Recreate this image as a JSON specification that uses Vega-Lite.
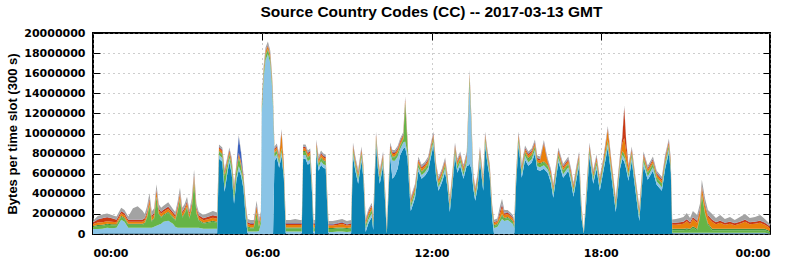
{
"$schema":"https://vega.github.io/schema/vega-lite/v6.json",
"width":677,"height":201,
"autosize":{"type":"none"},
"padding":{"left":93,"top":33,"right":22,"bottom":25},
"background":"white",
"title":{"text":"Source Country Codes (CC) -- 2017-03-13 GMT","font":"Liberation Sans","fontSize":15.5,"fontWeight":"bold","color":"black","anchor":"middle","offset":7},
"config":{"view":{"stroke":"black","strokeWidth":2},"axis":{"labelFont":"DejaVu Sans","labelFontWeight":"bold","labelFontSize":11,"labelColor":"black","tickColor":"black","domain":false,"gridColor":"#9a9a9a","gridDash":[1,4],"gridOpacity":1,"gridWidth":1}},
"resolve":{"axis":{"x":"independent","y":"independent"}},
"layer":[
{
"data":{"values":[
{"m":0,"a":0,"b":5e5,"c":2e5,"d":1e5,"e":2e5,"f":1.5e5,"g":0,"h":1.5e5},
{"m":10,"a":0,"b":5e5,"c":3e5,"d":1e5,"e":2.5e5,"f":3e5,"g":5e4,"h":3e5},
{"m":20,"a":2e4,"b":5e5,"c":3e5,"d":1e5,"e":2.5e5,"f":4e5,"g":3e4,"h":3.5e5},
{"m":30,"a":2e4,"b":6e5,"c":3e5,"d":1e5,"e":2.5e5,"f":4e5,"g":3e4,"h":3.5e5},
{"m":40,"a":2e4,"b":5.5e5,"c":3e5,"d":1e5,"e":2.5e5,"f":3.5e5,"g":3e4,"h":3e5},
{"m":50,"a":2e4,"b":6e5,"c":2.5e5,"d":1e5,"e":2e5,"f":2.5e5,"g":3e4,"h":3e5},
{"m":60,"a":2e4,"b":1.4e6,"c":3e5,"d":1e5,"e":2.5e5,"f":2e5,"g":3e4,"h":3e5},
{"m":67,"a":2e4,"b":1.2e6,"c":3e5,"d":1e5,"e":2.5e5,"f":2e5,"g":3e4,"h":3e5},
{"m":75,"a":2e4,"b":6e5,"c":3e5,"d":1e5,"e":2e5,"f":2e5,"g":3e4,"h":3e5},
{"m":85,"a":2e4,"b":6e5,"c":3e5,"d":1e5,"e":2e5,"f":2e5,"g":3e4,"h":1.1e6},
{"m":95,"a":2e4,"b":6e5,"c":3e5,"d":1e5,"e":2e5,"f":2e5,"g":3e4,"h":1.3e6},
{"m":105,"a":2e4,"b":6e5,"c":3e5,"d":1e5,"e":2e5,"f":2e5,"g":3e4,"h":9e5},
{"m":110,"a":2e4,"b":6e5,"c":4e5,"d":1e5,"e":2.5e5,"f":2e5,"g":3e4,"h":4e5},
{"m":115,"a":2e4,"b":6e5,"c":1e6,"d":1e5,"e":3e5,"f":2e5,"g":3e4,"h":5e5},
{"m":120,"a":2e4,"b":6e5,"c":2.2e6,"d":1e5,"e":4e5,"f":2e5,"g":3e4,"h":5e5},
{"m":125,"a":2e4,"b":6e5,"c":6e5,"d":1e5,"e":3e5,"f":2e5,"g":3e4,"h":4e5},
{"m":130,"a":2e4,"b":7e5,"c":8e5,"d":1e5,"e":3e5,"f":2e5,"g":3e4,"h":4e5},
{"m":135,"a":2e4,"b":8e5,"c":2.8e6,"d":1e5,"e":5e5,"f":2e5,"g":3e4,"h":5e5},
{"m":140,"a":2e4,"b":9e5,"c":1e6,"d":1e5,"e":3e5,"f":2e5,"g":3e4,"h":4e5},
{"m":145,"a":2e4,"b":1e6,"c":6e5,"d":1e5,"e":3e5,"f":2e5,"g":3e4,"h":3.5e5},
{"m":150,"a":2e4,"b":1.2e6,"c":6e5,"d":1e5,"e":3e5,"f":2e5,"g":3e4,"h":3.5e5},
{"m":160,"a":2e4,"b":1.3e6,"c":8e5,"d":1e5,"e":3e5,"f":2e5,"g":3e4,"h":4e5},
{"m":170,"a":2e4,"b":1e6,"c":6e5,"d":1e5,"e":2.5e5,"f":2e5,"g":3e4,"h":3e5},
{"m":175,"a":2e4,"b":7e5,"c":6e5,"d":1e5,"e":2.5e5,"f":2e5,"g":3e4,"h":3e5},
{"m":180,"a":2e4,"b":6e5,"c":1.6e6,"d":1e5,"e":3e5,"f":2e5,"g":3e4,"h":3.5e5},
{"m":185,"a":2e4,"b":6e5,"c":2.8e6,"d":1e5,"e":4e5,"f":2e5,"g":3e4,"h":4.5e5},
{"m":190,"a":2e4,"b":6e5,"c":1e6,"d":1e5,"e":3e5,"f":2e5,"g":3e4,"h":3.5e5},
{"m":195,"a":2e4,"b":6e5,"c":1.4e6,"d":1e5,"e":3e5,"f":2e5,"g":3e4,"h":3.5e5},
{"m":200,"a":2e4,"b":6e5,"c":2e6,"d":1e5,"e":3.5e5,"f":2e5,"g":3e4,"h":4e5},
{"m":205,"a":2e4,"b":6e5,"c":9e5,"d":1e5,"e":3e5,"f":2e5,"g":3e4,"h":2.5e5},
{"m":210,"a":2e4,"b":6e5,"c":1.8e6,"d":1e5,"e":3.5e5,"f":2e5,"g":3e4,"h":4e5},
{"m":215,"a":2e4,"b":6e5,"c":4.5e6,"d":1e5,"e":4.5e5,"f":2e5,"g":3e4,"h":5e5},
{"m":220,"a":2e4,"b":6e5,"c":1.4e6,"d":1e5,"e":3e5,"f":2e5,"g":3e4,"h":3.5e5},
{"m":225,"a":2e4,"b":6e5,"c":7e5,"d":1e5,"e":2.5e5,"f":2e5,"g":3e4,"h":3e5},
{"m":235,"a":2e4,"b":5e5,"c":5e5,"d":1e5,"e":2.5e5,"f":2e5,"g":3e4,"h":3e5},
{"m":245,"a":2e4,"b":5e5,"c":6e5,"d":1e5,"e":2.5e5,"f":2.5e5,"g":3e4,"h":3.5e5},
{"m":255,"a":2e4,"b":5e5,"c":7e5,"d":1e5,"e":3e5,"f":2.5e5,"g":3e4,"h":4e5},
{"m":264,"a":2e4,"b":5e5,"c":6e5,"d":1e5,"e":3e5,"f":2.5e5,"g":3e4,"h":3.5e5},
{"m":268,"a":7.5e6,"b":3.5e5,"c":3e5,"d":1e5,"e":2.5e5,"f":1.5e5,"g":5e4,"h":2e5},
{"m":275,"a":7.2e6,"b":3.5e5,"c":3e5,"d":1e5,"e":2.5e5,"f":1.5e5,"g":5e4,"h":2e5},
{"m":280,"a":4.2e6,"b":3.5e5,"c":1.2e6,"d":1e5,"e":2.5e5,"f":1.5e5,"g":5e4,"h":2e5},
{"m":285,"a":5.8e6,"b":3.5e5,"c":6e5,"d":1e5,"e":2.5e5,"f":1.5e5,"g":5e4,"h":2e5},
{"m":290,"a":7.2e6,"b":3.5e5,"c":3e5,"d":1e5,"e":2.5e5,"f":1.5e5,"g":5e4,"h":2e5},
{"m":295,"a":6e6,"b":3.5e5,"c":5e5,"d":1e5,"e":2.5e5,"f":1.5e5,"g":5e4,"h":2e5},
{"m":300,"a":3e6,"b":3.5e5,"c":8e5,"d":1e5,"e":2.5e5,"f":1.5e5,"g":5e4,"h":2e5},
{"m":305,"a":5.3e6,"b":3.5e5,"c":6e5,"d":1e5,"e":2.5e5,"f":1.5e5,"g":5e4,"h":2e5},
{"m":310,"a":6.4e6,"b":3.5e5,"c":8e5,"d":1e5,"e":2.5e5,"f":1.5e5,"g":1.6e6,"h":2e5},
{"m":315,"a":5.8e6,"b":3.5e5,"c":6e5,"d":1e5,"e":2.5e5,"f":1.5e5,"g":8e5,"h":2e5},
{"m":320,"a":4.5e6,"b":3.5e5,"c":4e5,"d":1e5,"e":2.5e5,"f":1.5e5,"g":5e4,"h":2e5},
{"m":325,"a":1.5e6,"b":3.5e5,"c":4e5,"d":1e5,"e":2.5e5,"f":1.5e5,"g":5e4,"h":2e5},
{"m":329,"a":0,"b":2.5e5,"c":4e5,"d":1e5,"e":2.5e5,"f":1.5e5,"g":5e4,"h":3e5},
{"m":335,"a":0,"b":2.5e5,"c":3e5,"d":1e5,"e":2.5e5,"f":1.5e5,"g":5e4,"h":3e5},
{"m":342,"a":0,"b":2.5e5,"c":3e5,"d":1e5,"e":2.5e5,"f":1.5e5,"g":5e4,"h":3e5},
{"m":348,"a":0,"b":2.5e5,"c":1.8e6,"d":1e5,"e":5e5,"f":1.5e5,"g":5e4,"h":4.5e5},
{"m":353,"a":0,"b":3e5,"c":4e5,"d":1e5,"e":2.5e5,"f":1.5e5,"g":5e4,"h":3e5},
{"m":357,"a":0,"b":1e6,"c":4e5,"d":1e5,"e":3e5,"f":1e5,"g":5e4,"h":3e5},
{"m":359,"a":0,"b":1.2e7,"c":4e5,"d":1e5,"e":3e5,"f":1e5,"g":5e4,"h":3e5},
{"m":363,"a":0,"b":1.55e7,"c":4e5,"d":1e5,"e":3e5,"f":1e5,"g":5e4,"h":3e5},
{"m":367,"a":0,"b":1.73e7,"c":4e5,"d":1e5,"e":3e5,"f":1e5,"g":5e4,"h":3e5},
{"m":372,"a":0,"b":1.79e7,"c":4e5,"d":1e5,"e":3e5,"f":1e5,"g":5e4,"h":3e5},
{"m":377,"a":0,"b":1.7e7,"c":4e5,"d":1e5,"e":3e5,"f":1e5,"g":5e4,"h":3e5},
{"m":381,"a":0,"b":1.45e7,"c":4e5,"d":1e5,"e":3e5,"f":1e5,"g":5e4,"h":3e5},
{"m":383,"a":0,"b":1.25e7,"c":4e5,"d":1e5,"e":3e5,"f":1e5,"g":5e4,"h":3e5},
{"m":386,"a":7.3e6,"b":3.5e5,"c":3e5,"d":1e5,"e":2.5e5,"f":1.5e5,"g":5e4,"h":2e5},
{"m":391,"a":7.6e6,"b":3.5e5,"c":3e5,"d":1e5,"e":2.5e5,"f":1.5e5,"g":5e4,"h":2e5},
{"m":396,"a":6.6e6,"b":3.5e5,"c":3e5,"d":1e5,"e":2.5e5,"f":1.5e5,"g":5e4,"h":2e5},
{"m":401,"a":7.8e6,"b":3.5e5,"c":3e5,"d":1e5,"e":1.5e6,"f":1.5e5,"g":5e4,"h":2e5},
{"m":406,"a":5.5e6,"b":3.5e5,"c":3e5,"d":1e5,"e":5e5,"f":1.5e5,"g":5e4,"h":2e5},
{"m":410,"a":0,"b":2.5e5,"c":3e5,"d":1e5,"e":2.5e5,"f":1.5e5,"g":5e4,"h":3e5},
{"m":420,"a":0,"b":2.5e5,"c":3e5,"d":1e5,"e":2.5e5,"f":1.5e5,"g":5e4,"h":3e5},
{"m":430,"a":0,"b":2.5e5,"c":3e5,"d":1e5,"e":2.5e5,"f":1.5e5,"g":5e4,"h":4e5},
{"m":440,"a":0,"b":2.5e5,"c":3e5,"d":1e5,"e":2.5e5,"f":1.5e5,"g":5e4,"h":3e5},
{"m":444,"a":0,"b":2.5e5,"c":3e5,"d":1e5,"e":2.5e5,"f":1.5e5,"g":5e4,"h":3e5},
{"m":447,"a":7.5e6,"b":3.5e5,"c":3e5,"d":1e5,"e":2.5e5,"f":1.5e5,"g":5e4,"h":2e5},
{"m":452,"a":7.5e6,"b":3.5e5,"c":3e5,"d":1e5,"e":2.5e5,"f":1.5e5,"g":5e4,"h":2e5},
{"m":457,"a":6.9e6,"b":3.5e5,"c":3e5,"d":1e5,"e":2.5e5,"f":1.5e5,"g":5e4,"h":2e5},
{"m":462,"a":7.1e6,"b":3.5e5,"c":3e5,"d":1e5,"e":2.5e5,"f":1.5e5,"g":5e4,"h":2e5},
{"m":466,"a":4e6,"b":3.5e5,"c":3e5,"d":1e5,"e":2.5e5,"f":1.5e5,"g":5e4,"h":2e5},
{"m":469,"a":0,"b":2.5e5,"c":3e5,"d":1e5,"e":2.5e5,"f":1.5e5,"g":5e4,"h":3e5},
{"m":472,"a":0,"b":2.5e5,"c":3e5,"d":1e5,"e":2.5e5,"f":1.5e5,"g":5e4,"h":3e5},
{"m":475,"a":8e6,"b":3.5e5,"c":3e5,"d":1e5,"e":2.5e5,"f":1.5e5,"g":5e4,"h":2e5},
{"m":480,"a":6.3e6,"b":3.5e5,"c":3e5,"d":1e5,"e":2.5e5,"f":1.5e5,"g":5e4,"h":2e5},
{"m":485,"a":6.9e6,"b":3.5e5,"c":3e5,"d":1e5,"e":2.5e5,"f":1.5e5,"g":5e4,"h":2e5},
{"m":490,"a":6.6e6,"b":3.5e5,"c":3e5,"d":1e5,"e":2.5e5,"f":1.5e5,"g":5e4,"h":2e5},
{"m":495,"a":6.5e6,"b":3.5e5,"c":3e5,"d":1e5,"e":2.5e5,"f":1.5e5,"g":5e4,"h":2e5},
{"m":498,"a":3e6,"b":3.5e5,"c":3e5,"d":1e5,"e":2.5e5,"f":1.5e5,"g":5e4,"h":2e5},
{"m":501,"a":0,"b":2e5,"c":3e5,"d":1e5,"e":2.5e5,"f":1e5,"g":5e4,"h":3e5},
{"m":510,"a":0,"b":2e5,"c":3e5,"d":1e5,"e":2.5e5,"f":1e5,"g":5e4,"h":3e5},
{"m":520,"a":0,"b":2.5e5,"c":3e5,"d":1e5,"e":2.5e5,"f":1.5e5,"g":5e4,"h":3e5},
{"m":530,"a":0,"b":2.5e5,"c":3e5,"d":1e5,"e":3.5e5,"f":1.5e5,"g":5e4,"h":3e5},
{"m":540,"a":0,"b":2e5,"c":3e5,"d":1e5,"e":2.5e5,"f":1e5,"g":5e4,"h":3e5},
{"m":549,"a":0,"b":2.5e5,"c":3e5,"d":1e5,"e":2.5e5,"f":1.5e5,"g":5e4,"h":3e5},
{"m":553,"a":7.7e6,"b":3.5e5,"c":3e5,"d":1e5,"e":2.5e5,"f":1.5e5,"g":5e4,"h":2e5},
{"m":558,"a":6.3e6,"b":3.5e5,"c":3e5,"d":1e5,"e":2.5e5,"f":1.5e5,"g":5e4,"h":2e5},
{"m":564,"a":5e6,"b":3.5e5,"c":3e5,"d":1e5,"e":2.5e5,"f":1.5e5,"g":5e4,"h":2e5},
{"m":571,"a":7.3e6,"b":3.5e5,"c":3e5,"d":1e5,"e":2.5e5,"f":1.5e5,"g":5e4,"h":2e5},
{"m":575,"a":5.6e6,"b":3.5e5,"c":3e5,"d":1e5,"e":2.5e5,"f":1.5e5,"g":5e4,"h":2e5},
{"m":580,"a":2e5,"b":3.5e5,"c":3e5,"d":1e5,"e":2.5e5,"f":1.5e5,"g":5e4,"h":2e5},
{"m":586,"a":1.1e6,"b":3.5e5,"c":3e5,"d":1e5,"e":2.5e5,"f":1.5e5,"g":5e4,"h":2e5},
{"m":593,"a":1.7e6,"b":3.5e5,"c":3e5,"d":1e5,"e":2.5e5,"f":1.5e5,"g":5e4,"h":2e5},
{"m":596,"a":4e5,"b":3.5e5,"c":3e5,"d":1e5,"e":2.5e5,"f":1.5e5,"g":5e4,"h":2e5},
{"m":602,"a":8.8e6,"b":3.5e5,"c":3e5,"d":1e5,"e":2.5e5,"f":1.5e5,"g":5e4,"h":2e5},
{"m":606,"a":6.5e6,"b":3.5e5,"c":3e5,"d":1e5,"e":2.5e5,"f":1.5e5,"g":5e4,"h":2e5},
{"m":610,"a":5e6,"b":3.5e5,"c":3e5,"d":1e5,"e":2.5e5,"f":1.5e5,"g":5e4,"h":2e5},
{"m":617,"a":6.8e6,"b":3.5e5,"c":3e5,"d":1e5,"e":2.5e5,"f":1.5e5,"g":5e4,"h":2e5},
{"m":622,"a":2.6e6,"b":3.5e5,"c":3e5,"d":1e5,"e":2.5e5,"f":1.5e5,"g":5e4,"h":2e5},
{"m":625,"a":0,"b":1e5,"c":2e5,"d":5e4,"e":1.5e5,"f":1e5,"g":2e4,"h":1.5e5},
{"m":632,"a":7.7e6,"b":3.5e5,"c":3e5,"d":1e5,"e":2.5e5,"f":1.5e5,"g":5e4,"h":2e5},
{"m":637,"a":5.5e6,"b":1.8e6,"c":3e5,"d":1e5,"e":2.5e5,"f":1.5e5,"g":5e4,"h":2e5},
{"m":642,"a":5.8e6,"b":1.5e6,"c":3e5,"d":1e5,"e":2.5e5,"f":1.5e5,"g":5e4,"h":2e5},
{"m":648,"a":6.5e6,"b":1.2e6,"c":3e5,"d":1e5,"e":2.5e5,"f":1.5e5,"g":5e4,"h":2e5},
{"m":653,"a":7.8e6,"b":6e5,"c":3e5,"d":1e5,"e":2.5e5,"f":1.5e5,"g":5e4,"h":2e5},
{"m":660,"a":8.5e6,"b":6e5,"c":3e5,"d":1e5,"e":2.5e5,"f":1.5e5,"g":5e4,"h":2e5},
{"m":664,"a":8.6e6,"b":6e5,"c":3.75e6,"d":1e5,"e":2.5e5,"f":1.5e5,"g":5e4,"h":2e5},
{"m":669,"a":7.5e6,"b":5e5,"c":8e5,"d":1e5,"e":2.5e5,"f":1.5e5,"g":5e4,"h":2e5},
{"m":673,"a":4.3e6,"b":3.5e5,"c":3e5,"d":1e5,"e":2.5e5,"f":1.5e5,"g":5e4,"h":2e5},
{"m":676,"a":2.3e6,"b":3.5e5,"c":3e5,"d":1e5,"e":2.5e5,"f":1.5e5,"g":5e4,"h":2e5},
{"m":685,"a":3.6e6,"b":3.5e5,"c":3e5,"d":1e5,"e":2.5e5,"f":1.5e5,"g":5e4,"h":2e5},
{"m":692,"a":6.3e6,"b":3.5e5,"c":3e5,"d":1e5,"e":2.5e5,"f":1.5e5,"g":5e4,"h":2e5},
{"m":699,"a":5.5e6,"b":3.5e5,"c":3e5,"d":1e5,"e":2.5e5,"f":1.5e5,"g":5e4,"h":2e5},
{"m":706,"a":5.8e6,"b":3.5e5,"c":3e5,"d":1e5,"e":2.5e5,"f":1.5e5,"g":5e4,"h":2e5},
{"m":713,"a":6.3e6,"b":3.5e5,"c":3e5,"d":1e5,"e":2.5e5,"f":1.5e5,"g":5e4,"h":2e5},
{"m":718,"a":7.5e6,"b":3.5e5,"c":3e5,"d":1e5,"e":2.5e5,"f":1.5e5,"g":5e4,"h":2e5},
{"m":724,"a":8.8e6,"b":3.5e5,"c":3e5,"d":1e5,"e":2.5e5,"f":1.5e5,"g":5e4,"h":2e5},
{"m":730,"a":5.6e6,"b":3.5e5,"c":3e5,"d":1e5,"e":2.5e5,"f":1.5e5,"g":5e4,"h":2e5},
{"m":735,"a":4.3e6,"b":3.5e5,"c":3e5,"d":1e5,"e":2.5e5,"f":1.5e5,"g":5e4,"h":2e5},
{"m":742,"a":5.1e6,"b":3.5e5,"c":3e5,"d":1e5,"e":2.5e5,"f":1.5e5,"g":5e4,"h":2e5},
{"m":749,"a":6.2e6,"b":3.5e5,"c":3e5,"d":1e5,"e":2.5e5,"f":1.5e5,"g":5e4,"h":2e5},
{"m":754,"a":4.6e6,"b":3.5e5,"c":3e5,"d":1e5,"e":2.5e5,"f":1.5e5,"g":5e4,"h":2e5},
{"m":759,"a":2.2e6,"b":3.5e5,"c":3e5,"d":1e5,"e":2.5e5,"f":1.5e5,"g":5e4,"h":2e5},
{"m":765,"a":5.1e6,"b":3.5e5,"c":3e5,"d":1e5,"e":2.5e5,"f":1.5e5,"g":5e4,"h":2e5},
{"m":770,"a":7.7e6,"b":3.5e5,"c":3e5,"d":1e5,"e":2.5e5,"f":1.5e5,"g":5e4,"h":2e5},
{"m":775,"a":6.1e6,"b":3.5e5,"c":3e5,"d":1e5,"e":2.5e5,"f":1.5e5,"g":5e4,"h":2e5},
{"m":781,"a":6.8e6,"b":3.5e5,"c":3e5,"d":1e5,"e":2.5e5,"f":1.5e5,"g":5e4,"h":2e5},
{"m":788,"a":5.5e6,"b":3.5e5,"c":3e5,"d":1e5,"e":2.5e5,"f":1.5e5,"g":5e4,"h":2e5},
{"m":795,"a":6.8e6,"b":3.5e5,"c":3e5,"d":1e5,"e":2.5e5,"f":1.5e5,"g":5e4,"h":2e5},
{"m":798,"a":6.8e6,"b":4.5e6,"c":3e5,"d":1e5,"e":2.5e5,"f":1.5e5,"g":5e4,"h":2e5},
{"m":801,"a":7e6,"b":7.9e6,"c":6e5,"d":1e5,"e":2.5e5,"f":1.5e5,"g":5e4,"h":3e5},
{"m":805,"a":6.5e6,"b":4e6,"c":3e5,"d":1e5,"e":2.5e5,"f":1.5e5,"g":5e4,"h":2e5},
{"m":809,"a":4.5e6,"b":5e5,"c":3e5,"d":1e5,"e":2.5e5,"f":1.5e5,"g":5e4,"h":2e5},
{"m":813,"a":3.3e6,"b":3.5e5,"c":3e5,"d":1e5,"e":2.5e5,"f":1.5e5,"g":5e4,"h":2e5},
{"m":818,"a":4.6e6,"b":3.5e5,"c":3e5,"d":1e5,"e":2.5e5,"f":1.5e5,"g":5e4,"h":2e5},
{"m":823,"a":7.3e6,"b":3.5e5,"c":3e5,"d":1e5,"e":2.5e5,"f":1.5e5,"g":5e4,"h":2e5},
{"m":830,"a":4.3e6,"b":3.5e5,"c":3e5,"d":1e5,"e":2.5e5,"f":1.5e5,"g":5e4,"h":2e5},
{"m":834,"a":8.8e6,"b":3.5e5,"c":3e5,"d":1e5,"e":2.5e5,"f":1.5e5,"g":5e4,"h":2e5},
{"m":839,"a":7e6,"b":3.5e5,"c":3e5,"d":1e5,"e":2.5e5,"f":1.5e5,"g":5e4,"h":2e5},
{"m":844,"a":5.6e6,"b":3.5e5,"c":3e5,"d":1e5,"e":2.5e5,"f":1.5e5,"g":5e4,"h":2e5},
{"m":849,"a":1.6e6,"b":3.5e5,"c":3e5,"d":1e5,"e":2.5e5,"f":1.5e5,"g":5e4,"h":2e5},
{"m":853,"a":0,"b":6e5,"c":2e5,"d":1e5,"e":2e5,"f":1e5,"g":3e4,"h":2e5},
{"m":860,"a":0,"b":7e5,"c":2e5,"d":1e5,"e":2e5,"f":1e5,"g":3e4,"h":2e5},
{"m":866,"a":0,"b":1.2e6,"c":3e5,"d":1e5,"e":4e5,"f":3e5,"g":3e4,"h":5e5},
{"m":870,"a":0,"b":1.5e6,"c":4e5,"d":1e5,"e":6e5,"f":3e5,"g":1e5,"h":5e5},
{"m":875,"a":0,"b":1.3e6,"c":2e5,"d":1e5,"e":3e5,"f":1.5e5,"g":3e4,"h":3e5},
{"m":882,"a":0,"b":1.4e6,"c":2e5,"d":1e5,"e":3e5,"f":1.5e5,"g":3e4,"h":2e5},
{"m":888,"a":0,"b":1.2e6,"c":2e5,"d":1e5,"e":2.5e5,"f":1.5e5,"g":3e4,"h":2e5},
{"m":893,"a":0,"b":1e6,"c":2e5,"d":1e5,"e":2.5e5,"f":1e5,"g":3e4,"h":2e5},
{"m":896,"a":0,"b":6e5,"c":2e5,"d":1e5,"e":2.5e5,"f":1e5,"g":3e4,"h":2e5},
{"m":900,"a":5e6,"b":3.5e5,"c":3e5,"d":1e5,"e":2.5e5,"f":1.5e5,"g":5e4,"h":2e5},
{"m":905,"a":8.8e6,"b":3.5e5,"c":3e5,"d":1e5,"e":2.5e5,"f":1.5e5,"g":5e4,"h":2e5},
{"m":908,"a":7.6e6,"b":3.5e5,"c":3e5,"d":1e5,"e":2.5e5,"f":1.5e5,"g":5e4,"h":2e5},
{"m":912,"a":5.6e6,"b":3.5e5,"c":3e5,"d":1e5,"e":2.5e5,"f":1.5e5,"g":5e4,"h":2e5},
{"m":919,"a":7.4e6,"b":3.5e5,"c":3e5,"d":1e5,"e":2.5e5,"f":1.5e5,"g":5e4,"h":2e5},
{"m":926,"a":6.8e6,"b":3.5e5,"c":3e5,"d":1e5,"e":2.5e5,"f":1.5e5,"g":5e4,"h":2e5},
{"m":933,"a":7.1e6,"b":3.5e5,"c":3e5,"d":1e5,"e":2.5e5,"f":1.5e5,"g":5e4,"h":2e5},
{"m":940,"a":8e6,"b":3.5e5,"c":3e5,"d":1e5,"e":2.5e5,"f":1.5e5,"g":5e4,"h":2e5},
{"m":945,"a":6.4e6,"b":3.5e5,"c":3e5,"d":1e5,"e":2.5e5,"f":1.5e5,"g":5e4,"h":2e5},
{"m":951,"a":6.3e6,"b":3.5e5,"c":3e5,"d":1e5,"e":2.5e5,"f":1.5e5,"g":5e4,"h":2e5},
{"m":959,"a":6.5e6,"b":3.5e5,"c":3e5,"d":1e5,"e":1.7e6,"f":1.5e5,"g":5e4,"h":2e5},
{"m":965,"a":6.2e6,"b":3.5e5,"c":3e5,"d":1e5,"e":6e5,"f":1.5e5,"g":5e4,"h":2e5},
{"m":968,"a":6e6,"b":3.5e5,"c":3e5,"d":1e5,"e":2.5e5,"f":1.5e5,"g":5e4,"h":2e5},
{"m":974,"a":5.1e6,"b":3.5e5,"c":3e5,"d":1e5,"e":2.5e5,"f":1.5e5,"g":5e4,"h":2e5},
{"m":979,"a":3.6e6,"b":3.5e5,"c":3e5,"d":1e5,"e":2.5e5,"f":1.5e5,"g":5e4,"h":2e5},
{"m":985,"a":5.6e6,"b":3.5e5,"c":3e5,"d":1e5,"e":2.5e5,"f":1.5e5,"g":5e4,"h":2e5},
{"m":990,"a":7.2e6,"b":3.5e5,"c":3e5,"d":1e5,"e":2.5e5,"f":1.5e5,"g":5e4,"h":2e5},
{"m":1000,"a":5.6e6,"b":3.5e5,"c":3e5,"d":1e5,"e":2.5e5,"f":1.5e5,"g":5e4,"h":2e5},
{"m":1011,"a":6.3e6,"b":3.5e5,"c":3e5,"d":1e5,"e":2.5e5,"f":1.5e5,"g":5e4,"h":2e5},
{"m":1017,"a":5.1e6,"b":3.5e5,"c":3e5,"d":1e5,"e":2.5e5,"f":1.5e5,"g":5e4,"h":2e5},
{"m":1022,"a":3.7e6,"b":3.5e5,"c":3e5,"d":1e5,"e":2.5e5,"f":1.5e5,"g":5e4,"h":2e5},
{"m":1029,"a":5.6e6,"b":3.5e5,"c":3e5,"d":1e5,"e":2.5e5,"f":1.5e5,"g":5e4,"h":2e5},
{"m":1034,"a":6.8e6,"b":3.5e5,"c":3e5,"d":1e5,"e":2.5e5,"f":1.5e5,"g":5e4,"h":2e5},
{"m":1039,"a":1.6e6,"b":3.5e5,"c":3e5,"d":1e5,"e":2.5e5,"f":1.5e5,"g":5e4,"h":2e5},
{"m":1044,"a":0,"b":5e4,"c":5e4,"d":2e4,"e":5e4,"f":3e4,"g":1e4,"h":5e4},
{"m":1050,"a":3.6e6,"b":3.5e5,"c":3e5,"d":1e5,"e":2.5e5,"f":1.5e5,"g":5e4,"h":2e5},
{"m":1056,"a":7.7e6,"b":3.5e5,"c":3e5,"d":1e5,"e":2.5e5,"f":1.5e5,"g":5e4,"h":2e5},
{"m":1064,"a":5e6,"b":3.5e5,"c":3e5,"d":1e5,"e":2.5e5,"f":1.5e5,"g":5e4,"h":2e5},
{"m":1071,"a":6.5e6,"b":3.5e5,"c":3e5,"d":1e5,"e":2.5e5,"f":1.5e5,"g":5e4,"h":2e5},
{"m":1078,"a":4.3e6,"b":3.5e5,"c":3e5,"d":1e5,"e":2.5e5,"f":1.5e5,"g":5e4,"h":2e5},
{"m":1085,"a":6.1e6,"b":3.5e5,"c":3e5,"d":1e5,"e":2.5e5,"f":1.5e5,"g":5e4,"h":2e5},
{"m":1095,"a":8.6e6,"b":3.5e5,"c":3e5,"d":1e5,"e":1e6,"f":1.5e5,"g":5e4,"h":2e5},
{"m":1103,"a":5.6e6,"b":3.5e5,"c":3e5,"d":1e5,"e":5e5,"f":1.5e5,"g":5e4,"h":2e5},
{"m":1112,"a":2.2e6,"b":3.5e5,"c":3e5,"d":1e5,"e":2.5e5,"f":1.5e5,"g":5e4,"h":2e5},
{"m":1121,"a":6.5e6,"b":3.5e5,"c":3e5,"d":1e5,"e":2.5e5,"f":1.5e5,"g":5e4,"h":2e5},
{"m":1126,"a":7.5e6,"b":3.5e5,"c":3e5,"d":1e5,"e":8e5,"f":6e5,"g":5e4,"h":2e5},
{"m":1130,"a":7.2e6,"b":3.5e5,"c":3e5,"d":1e5,"e":1.6e6,"f":3e6,"g":5e4,"h":2e5},
{"m":1134,"a":6.5e6,"b":3.5e5,"c":3e5,"d":1e5,"e":1e6,"f":1e6,"g":5e4,"h":2e5},
{"m":1139,"a":5.3e6,"b":3.5e5,"c":3e5,"d":1e5,"e":5e5,"f":1.5e5,"g":5e4,"h":2e5},
{"m":1146,"a":7.3e6,"b":3.5e5,"c":3e5,"d":1e5,"e":2.5e5,"f":1.5e5,"g":5e4,"h":2e5},
{"m":1153,"a":4.6e6,"b":3.5e5,"c":3e5,"d":1e5,"e":2.5e5,"f":1.5e5,"g":5e4,"h":2e5},
{"m":1162,"a":1.3e6,"b":3.5e5,"c":3e5,"d":1e5,"e":2.5e5,"f":1.5e5,"g":5e4,"h":2e5},
{"m":1171,"a":6.8e6,"b":3.5e5,"c":3e5,"d":1e5,"e":2.5e5,"f":1.5e5,"g":5e4,"h":2e5},
{"m":1180,"a":5.4e6,"b":3.5e5,"c":3e5,"d":1e5,"e":2.5e5,"f":1.5e5,"g":5e4,"h":2e5},
{"m":1191,"a":6.3e6,"b":3.5e5,"c":3e5,"d":1e5,"e":2.5e5,"f":1.5e5,"g":5e4,"h":2e5},
{"m":1199,"a":4.9e6,"b":3.5e5,"c":3e5,"d":1e5,"e":2.5e5,"f":1.5e5,"g":5e4,"h":2e5},
{"m":1210,"a":4.3e6,"b":3.5e5,"c":3e5,"d":1e5,"e":2.5e5,"f":1.5e5,"g":5e4,"h":2e5},
{"m":1217,"a":6.5e6,"b":3.5e5,"c":3e5,"d":1e5,"e":2.5e5,"f":1.5e5,"g":5e4,"h":2e5},
{"m":1225,"a":8.1e6,"b":3.5e5,"c":3e5,"d":1e5,"e":2.5e5,"f":1.5e5,"g":5e4,"h":2e5},
{"m":1229,"a":6.1e6,"b":3.5e5,"c":3e5,"d":1e5,"e":2.5e5,"f":1.5e5,"g":5e4,"h":2e5},
{"m":1232,"a":2e4,"b":1e5,"c":2.5e5,"d":1.5e5,"e":4e5,"f":2e5,"g":3e4,"h":3e5},
{"m":1240,"a":2e4,"b":1e5,"c":2.5e5,"d":1.5e5,"e":4e5,"f":2e5,"g":3e4,"h":3.5e5},
{"m":1249,"a":2e4,"b":1e5,"c":2.5e5,"d":1.5e5,"e":4.5e5,"f":2e5,"g":3e4,"h":4e5},
{"m":1256,"a":2e4,"b":1e5,"c":2.5e5,"d":1.5e5,"e":5e5,"f":2e5,"g":3e4,"h":4.5e5},
{"m":1263,"a":2e4,"b":1e5,"c":3e5,"d":1.5e5,"e":7e5,"f":2e5,"g":3e4,"h":6e5},
{"m":1270,"a":2e4,"b":1e5,"c":2.5e5,"d":1.5e5,"e":4.5e5,"f":2e5,"g":3e4,"h":4e5},
{"m":1276,"a":2e4,"b":1e5,"c":5e5,"d":1.5e5,"e":7e5,"f":2e5,"g":3e4,"h":6e5},
{"m":1285,"a":2e4,"b":1e5,"c":2.5e5,"d":1.5e5,"e":6e5,"f":2e5,"g":3e4,"h":5.5e5},
{"m":1291,"a":2e4,"b":1e5,"c":1.5e6,"d":1.5e5,"e":5.5e5,"f":2e5,"g":3e4,"h":4.5e5},
{"m":1295,"a":2e4,"b":1e5,"c":3.7e6,"d":1.5e5,"e":6e5,"f":2e5,"g":3e4,"h":6e5},
{"m":1302,"a":2e4,"b":1e5,"c":1.8e6,"d":1.5e5,"e":6.5e5,"f":2e5,"g":3e4,"h":5.5e5},
{"m":1308,"a":2e4,"b":1e5,"c":8e5,"d":1.5e5,"e":6e5,"f":2e5,"g":3e4,"h":5e5},
{"m":1317,"a":2e4,"b":1e5,"c":2.5e5,"d":1.5e5,"e":7e5,"f":2e5,"g":3e4,"h":5.5e5},
{"m":1325,"a":2e4,"b":1e5,"c":2.5e5,"d":1.5e5,"e":4.5e5,"f":2e5,"g":3e4,"h":4e5},
{"m":1334,"a":2e4,"b":1e5,"c":2.5e5,"d":1.5e5,"e":6e5,"f":2e5,"g":3e4,"h":5.5e5},
{"m":1344,"a":2e4,"b":1e5,"c":2.5e5,"d":1.5e5,"e":4e5,"f":2e5,"g":3e4,"h":3.5e5},
{"m":1355,"a":2e4,"b":1e5,"c":2.5e5,"d":1.5e5,"e":5e5,"f":2e5,"g":3e4,"h":4.5e5},
{"m":1365,"a":2e4,"b":1e5,"c":2.5e5,"d":1.5e5,"e":3.5e5,"f":2e5,"g":3e4,"h":3e5},
{"m":1376,"a":2e4,"b":1e5,"c":2.5e5,"d":1.5e5,"e":5e5,"f":2e5,"g":3e4,"h":4.5e5},
{"m":1387,"a":2e4,"b":1e5,"c":2.5e5,"d":1.5e5,"e":7e5,"f":2e5,"g":3e4,"h":5.5e5},
{"m":1397,"a":2e4,"b":1e5,"c":2.5e5,"d":1.5e5,"e":4.5e5,"f":2e5,"g":3e4,"h":4e5},
{"m":1408,"a":2e4,"b":1e5,"c":2.5e5,"d":1.5e5,"e":5e5,"f":2e5,"g":3e4,"h":4.5e5},
{"m":1419,"a":2e4,"b":1e5,"c":2.5e5,"d":1.5e5,"e":6e5,"f":2e5,"g":3e4,"h":5.5e5},
{"m":1429,"a":2e4,"b":1e5,"c":2.5e5,"d":1.5e5,"e":4e5,"f":2e5,"g":3e4,"h":3.5e5},
{"m":1440,"a":0,"b":5e4,"c":1.5e5,"d":1e5,"e":3e5,"f":1.5e5,"g":2e4,"h":2.3e5}
]},
"transform":[{"fold":["a","b","c","d","e","f","g","h"],"as":["k","v"]}],
"mark":{"type":"area","interpolate":"linear"},
"encoding":{
"x":{"field":"m","type":"quantitative","scale":{"domain":[0,1440],"nice":false,"zero":false},
"axis":{"values":[0,360,720,1080,1440],"labelExpr":"(floor(datum.value/60)%24<10?'0':'')+(floor(datum.value/60)%24)+':00'","title":null,"grid":true,"tickSize":-7,"labelPadding":20}},
"y":{"field":"v","type":"quantitative","stack":"zero","scale":{"domain":[0,20000000],"nice":false},
"axis":{"values":[0,2000000,4000000,6000000,8000000,10000000,12000000,14000000,16000000,18000000,20000000],"format":"d","title":"Bytes per time slot (300 s)","titleFont":"Liberation Sans","titleFontSize":13,"titleFontWeight":"bold","titleColor":"black","titlePadding":4,"grid":true,"tickSize":-7,"labelPadding":15}},
"color":{"field":"k","type":"nominal","scale":{"domain":["a","b","c","d","e","f","g","h"],"range":["#0a83b3","#8ac4e6","#66b446","#3d9140","#e8800a","#cc3a14","#3a60c0","#a3a3a3"]},"legend":null},
"order":{"field":"k","type":"ordinal","sort":"ascending"}
}
},
{
"data":{"values":[{"m":0,"v":0}]},
"mark":{"type":"point","opacity":0},
"encoding":{
"x":{"field":"m","type":"quantitative","scale":{"domain":[0,1440],"nice":false,"zero":false},"axis":{"orient":"top","values":[360,720,1080],"labels":false,"grid":false,"tickSize":-7,"title":null}},
"y":{"field":"v","type":"quantitative","scale":{"domain":[0,20000000],"nice":false},"axis":{"orient":"right","values":[2000000,4000000,6000000,8000000,10000000,12000000,14000000,16000000,18000000],"labels":false,"grid":false,"tickSize":-7,"title":null}}
}
}
]
}
